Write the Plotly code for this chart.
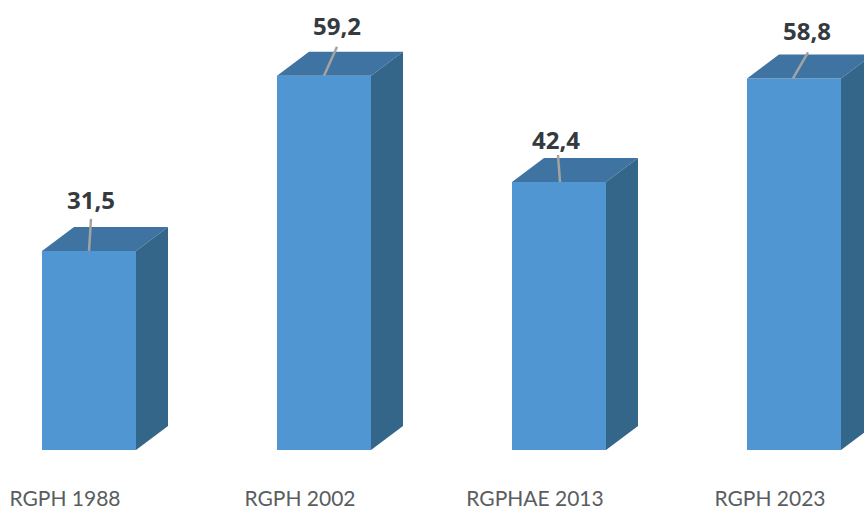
import plotly.graph_objects as go

categories = ["RGPH 1988", "RGPH 2002", "RGPHAE 2013", "RGPH 2023"]
values = [31.5, 59.2, 42.4, 58.8]
value_labels = ["31,5", "59,2", "42,4", "58,8"]

W, H = 864, 508
BASE_PX = 450
PX_PER_X = 235.0
PX_PER_Y = 6.32
X0_PX = 89
BAR_PX = 94
DX = 32 / PX_PER_X
DY = 24 / PX_PER_Y
HALF = BAR_PX / PX_PER_X / 2

# leader lines / label placement (pixel offsets from the front-top centre)
LEAD_START = [0, 0, 1, -1]
LEAD_END = [(2, 32), (13, 29), (-1, 27), (14, 26)]
LABEL_DX = [2, 13, -3, 13]
LABEL_DY = [48, 47, 39, 44]

xs = list(range(len(values)))


def polys(face):
    px, py = [], []
    for x, v in zip(xs, values):
        l, r = x - HALF, x + HALF
        if face == "top":
            p = [(l, v), (r, v), (r + DX, v + DY), (l + DX, v + DY), (l, v)]
        else:
            p = [(r, v), (r, 0), (r + DX, DY), (r + DX, v + DY), (r, v)]
        px += [q[0] for q in p] + [None]
        py += [q[1] for q in p] + [None]
    return px, py


fig = go.Figure()
fig.add_bar(x=xs, y=values, width=2 * HALF, marker=dict(color="#4F96D2", line_width=0), hoverinfo="skip")
for face, color in (("top", "#3F74A2"), ("side", "#34668A")):
    px, py = polys(face)
    fig.add_scatter(x=px, y=py, mode="lines", fill="toself", fillcolor=color,
                    line=dict(width=0, color=color), hoverinfo="skip")

lx, ly = [], []
for i, (x, v) in enumerate(zip(xs, values)):
    lx += [x + LEAD_START[i] / PX_PER_X, x + LEAD_END[i][0] / PX_PER_X, None]
    ly += [v, v + LEAD_END[i][1] / PX_PER_Y, None]
fig.add_scatter(x=lx, y=ly, mode="lines", line=dict(color="#A3A3A3", width=2.5), hoverinfo="skip")

fig.add_scatter(
    x=[x + d / PX_PER_X for x, d in zip(xs, LABEL_DX)],
    y=[v + d / PX_PER_Y for v, d in zip(values, LABEL_DY)],
    mode="text", text=value_labels, textposition="middle center",
    textfont=dict(family="Open Sans", size=24, color="#353A40", weight="bold"),
    hoverinfo="skip",
)

fig.update_layout(
    width=W, height=H, showlegend=False, plot_bgcolor="white", paper_bgcolor="white",
    margin=dict(l=0, r=0, t=0, b=H - BASE_PX, pad=0),
    xaxis=dict(range=[-X0_PX / PX_PER_X, (W - X0_PX) / PX_PER_X], automargin=False,
               tickmode="array", tickvals=[x - 24 / PX_PER_X for x in xs], ticktext=categories,
               ticks="outside", ticklen=30, tickcolor="rgba(0,0,0,0)", tickwidth=1,
               tickfont=dict(family="Lato", size=21, color="#595D60"),
               showgrid=False, zeroline=False, showline=False, fixedrange=True),
    yaxis=dict(range=[0, BASE_PX / PX_PER_Y], visible=False, fixedrange=True, automargin=False),
)
fig.write_html("out.html", config={"displayModeBar": False},
               post_script="document.body.style.margin='0';")
